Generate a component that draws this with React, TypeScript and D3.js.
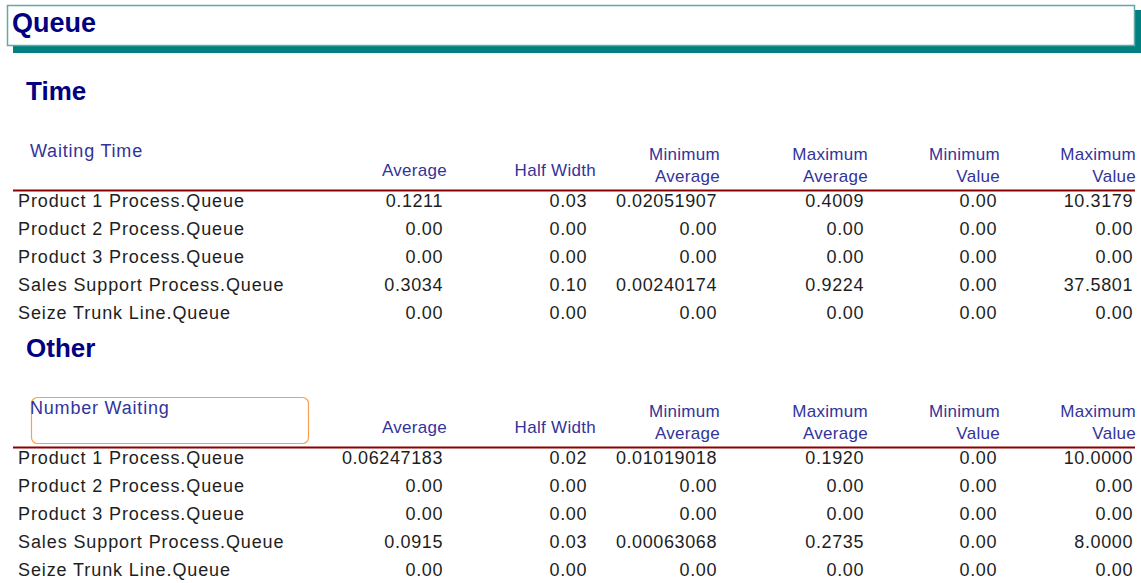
import * as d3 from "d3";

const width = 1141;
const height = 583;

// rows and columns of the report
const rowLabels = [
  "Product 1 Process.Queue",
  "Product 2 Process.Queue",
  "Product 3 Process.Queue",
  "Sales Support Process.Queue",
  "Seize Trunk Line.Queue",
];
const columns = ["Average", "Half Width", "Minimum Average", "Maximum Average", "Minimum Value", "Maximum Value"];
const headerLines = [["Average"], ["Half Width"], ["Minimum", "Average"], ["Maximum", "Average"], ["Minimum", "Value"], ["Maximum", "Value"]];

// Waiting Time
const waitAverage = ["0.1211", "0.00", "0.00", "0.3034", "0.00"];
const waitHalfWidth = ["0.03", "0.00", "0.00", "0.10", "0.00"];
const waitMinAverage = ["0.02051907", "0.00", "0.00", "0.00240174", "0.00"];
const waitMaxAverage = ["0.4009", "0.00", "0.00", "0.9224", "0.00"];
const waitMinValue = ["0.00", "0.00", "0.00", "0.00", "0.00"];
const waitMaxValue = ["10.3179", "0.00", "0.00", "37.5801", "0.00"];

// Number Waiting
const numAverage = ["0.06247183", "0.00", "0.00", "0.0915", "0.00"];
const numHalfWidth = ["0.02", "0.00", "0.00", "0.03", "0.00"];
const numMinAverage = ["0.01019018", "0.00", "0.00", "0.00063068", "0.00"];
const numMaxAverage = ["0.1920", "0.00", "0.00", "0.2735", "0.00"];
const numMinValue = ["0.00", "0.00", "0.00", "0.00", "0.00"];
const numMaxValue = ["10.0000", "0.00", "0.00", "8.0000", "0.00"];

const sections = [
  { title: "Time", header: "Waiting Time", boxed: false, values: [waitAverage, waitHalfWidth, waitMinAverage, waitMaxAverage, waitMinValue, waitMaxValue] },
  { title: "Other", header: "Number Waiting", boxed: true, values: [numAverage, numHalfWidth, numMinAverage, numMaxAverage, numMinValue, numMaxValue] },
];

const font = "'Liberation Sans', Arial, sans-serif";
const navy = "#000080";
const headBlue = "#33339a";
const bodyText = "#1e1e1e";

// column right edges (values, and headers)
const x = d3.scaleOrdinal<string, number>().domain(columns).range([443, 587, 717, 864, 997, 1133]);
const xHead = d3.scaleOrdinal<string, number>().domain(columns).range([447, 596, 720, 868, 1000, 1136]);
const y = d3.scalePoint<string>().domain(rowLabels).range([0, 112]);

const Section = ({ s, top }: { s: (typeof sections)[number]; top: number }) => {
  return (
    <g transform={`translate(0,${top})`}>
      <text x={26} y={0} fontSize={26} fontWeight="bold" fill={navy}>{s.title}</text>
      {s.boxed && <rect x={31.5} y={40.5} width={277} height={46} rx={6} fill="none" stroke="#f8a050" strokeWidth={1.2} />}
      <text x={30} y={57} fontSize={18} fill={headBlue} letterSpacing={0.8}>{s.header}</text>
      {columns.map((c, i) => {
        const lines = headerLines[i];
        const hx = xHead(c);
        return (
          <text key={c} textAnchor="end" fontSize={17} fill={headBlue} letterSpacing={0.3}>
            {lines.length === 1 ? (
              <tspan x={hx} y={76}>{lines[0]}</tspan>
            ) : (
              lines.map((l, k) => <tspan key={k} x={hx} y={60 + k * 22}>{l}</tspan>)
            )}
          </text>
        );
      })}
      <line x1={13} x2={1135} y1={90.5} y2={90.5} stroke="#8b0000" strokeWidth={2.2} />
      {rowLabels.map((r, ri) => (
        <g key={r} transform={`translate(0,${107 + (y(r) ?? 0)})`} fontSize={18} fill={bodyText}>
          <text x={18} letterSpacing={0.9}>{r}</text>
          {columns.map((c, ci) => (
            <text key={c} x={x(c)} textAnchor="end" letterSpacing={0.6}>{s.values[ci][ri]}</text>
          ))}
        </g>
      ))}
    </g>
  );
};

export default function App() {
  return (
    <div style={{ position: "absolute", left: 0, top: 0, background: "#fff" }}>
      <svg width={width} height={height} fontFamily={font} style={{ display: "block" }}>
        <rect width={width} height={height} fill="#fff" />
        {/* title banner */}
        <rect x={13} y={10} width={1128} height={43} fill="#008080" />
        <rect x={7.5} y={5.5} width={1127} height={40} fill="#fff" stroke="#5fa9a9" strokeWidth={1.5} />
        <text x={12} y={32} fontSize={27} fontWeight="bold" fill={navy}>Queue</text>
        {sections.map((s, i) => (
          <Section key={s.title} s={s} top={100 + i * 257} />
        ))}
      </svg>
    </div>
  );
}
